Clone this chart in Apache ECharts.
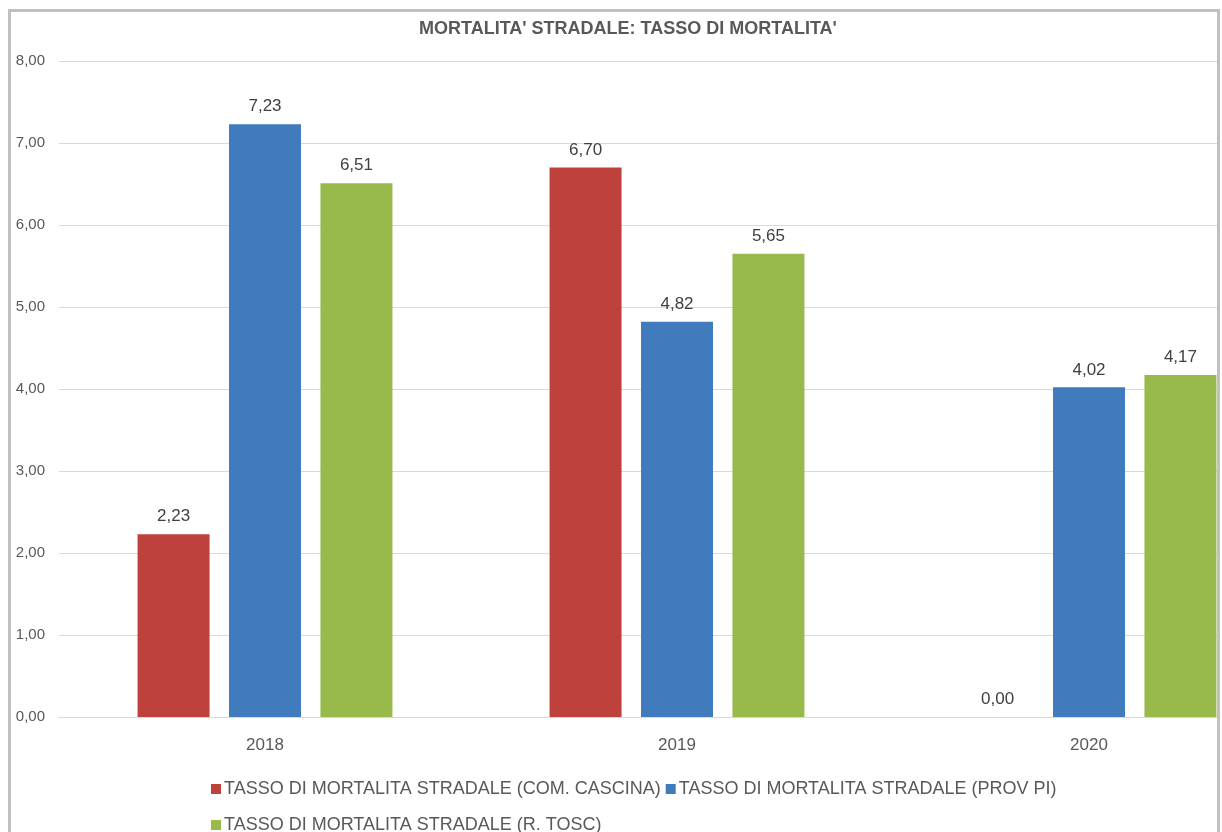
<!DOCTYPE html>
<html><head><meta charset="utf-8">
<script src="https://cdn.jsdelivr.net/npm/echarts@6/dist/echarts.min.js"></script>
<style>html,body{margin:0;padding:0;background:#fff;overflow:hidden}
#wrap{position:relative;width:1222px;height:832px;overflow:hidden}
#c{position:absolute;left:0;top:0;width:1295px;height:832px}
.b{position:absolute;background:#c0c0c0}
</style>
</head><body><div id="wrap"><div id="c"></div>
<div style="position:absolute;left:1217px;top:0;width:5px;height:832px;background:#fff"></div>
<div class="b" style="left:8px;top:9px;width:1212px;height:3px"></div>
<div class="b" style="left:8px;top:9px;width:3px;height:823px"></div>
<div class="b" style="left:1217px;top:9px;width:3px;height:823px"></div>
</div>
<script>
const title = "MORTALITA' STRADALE: TASSO DI MORTALITA'";
const categories = ['2018', '2019', '2020'];
const seriesNames = [
  'TASSO DI MORTALITA STRADALE (COM. CASCINA)',
  'TASSO DI MORTALITA STRADALE (PROV PI)',
  'TASSO DI MORTALITA STRADALE (R. TOSC)'
];
const cascina = [2.23, 6.70, 0.00];
const provPi = [7.23, 4.82, 4.02];
const rTosc = [6.51, 5.65, 4.17];
const yTicks = [0, 1, 2, 3, 4, 5, 6, 7, 8];

const colors = ['#BF413C', '#3F7BBD', '#97BA4A'];
const FONT = "'Liberation Sans', sans-serif";
const fmt = v => Number(v).toFixed(2).replace('.', ',');

const values = [cascina, provPi, rTosc];
const chart = echarts.init(document.getElementById('c'), null, {renderer: 'canvas'});
chart.setOption({
  backgroundColor: '#fff',
  animation: false,
  title: {
    text: title, left: 414, top: 15,
    textStyle: {fontFamily: FONT, fontSize: 18, fontWeight: 'bold', color: '#595959'}
  },
  legend: [{
    data: [seriesNames[0], seriesNames[1]],
    left: 206, top: 775, itemWidth: 10, itemHeight: 10, itemGap: 5,
    icon: 'rect',
    textStyle: {fontFamily: FONT, fontSize: 18, color: '#595959', padding: [0, 0, 0, -2]}
  }, {
    data: [seriesNames[2]],
    left: 206, top: 811, itemWidth: 10, itemHeight: 10,
    icon: 'rect',
    textStyle: {fontFamily: FONT, fontSize: 18, color: '#595959', padding: [0, 0, 0, -2]}
  }],
  grid: {left: 59, right: 0, top: 61, bottom: 115, containLabel: false},
  xAxis: {
    type: 'category', data: categories,
    axisLine: {show: true, lineStyle: {color: '#d9d9d9'}},
    axisTick: {show: false},
    axisLabel: {fontFamily: FONT, fontSize: 17, color: '#595959', margin: 20}
  },
  yAxis: {
    type: 'value', min: 0, max: 8, interval: 1,
    axisLine: {show: false}, axisTick: {show: false},
    splitLine: {lineStyle: {color: '#d9d9d9'}},
    axisLabel: {fontFamily: FONT, fontSize: 15, color: '#595959', margin: 14,
      formatter: v => yTicks.includes(v) ? fmt(v) : ''}
  },
  series: seriesNames.map((n, i) => ({
    name: n, type: 'bar', data: values[i],
    barWidth: 72, barGap: '27%',
    itemStyle: {color: colors[i]},
    label: {show: true, position: 'top', distance: 9, formatter: p => fmt(p.value),
      fontFamily: FONT, fontSize: 17, color: '#404040'}
  }))
});
</script></body></html>
